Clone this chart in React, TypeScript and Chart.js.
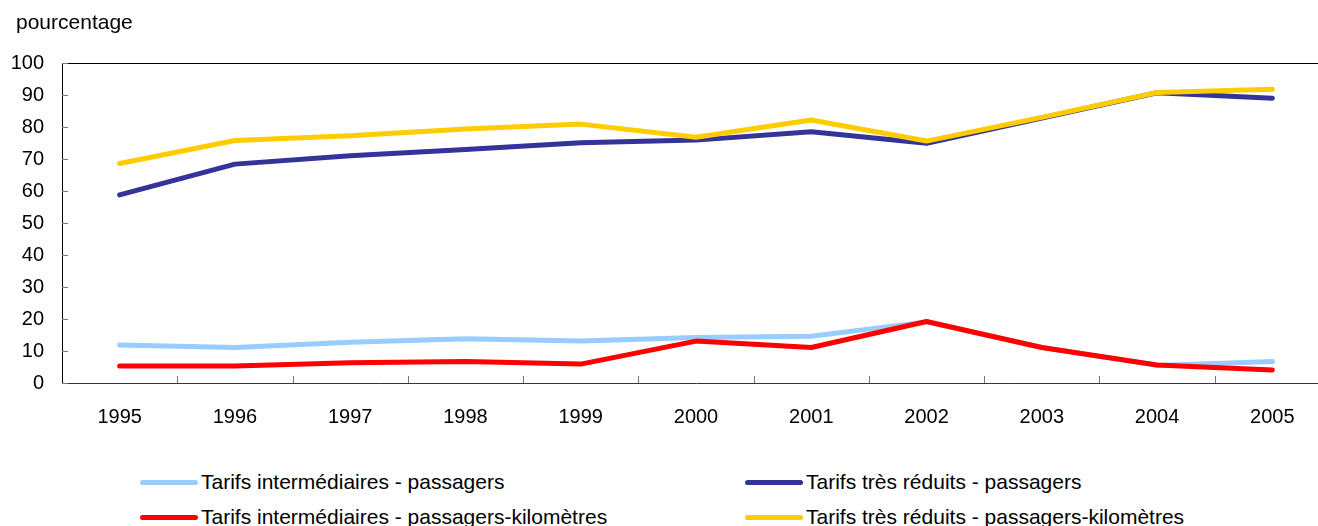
import React, { useEffect, useRef } from "react";
import { Chart, registerables } from "chart.js";

Chart.register(...registerables);

const years = ["1995", "1996", "1997", "1998", "1999", "2000", "2001", "2002", "2003", "2004", "2005"];
const interPassagers = [11.9, 11.1, 12.7, 13.8, 13.1, 14.2, 14.6, 19.1, 11.1, 5.5, 6.7];
const tresReduitsPassagers = [58.8, 68.4, 71.0, 73.0, 75.1, 75.9, 78.5, 74.9, 82.8, 90.7, 89.0];
const interPassKm = [5.3, 5.3, 6.3, 6.7, 5.9, 13.1, 11.1, 19.2, 11.1, 5.6, 4.1];
const tresReduitsPassKm = [68.6, 75.8, 77.3, 79.4, 80.9, 76.8, 82.2, 75.6, 83.0, 90.8, 91.8];
const seriesLabels = [
  "Tarifs intermédiaires - passagers",
  "Tarifs très réduits - passagers",
  "Tarifs intermédiaires - passagers-kilomètres",
  "Tarifs très réduits - passagers-kilomètres",
];
const seriesColors = ["#99ccff", "#333399", "#ff0000", "#ffcc00"];
const yMin = 0;
const yMax = 100;
const yStep = 10;
const yTitle = "pourcentage";

const FONT = "'Liberation Sans', Arial, Helvetica, sans-serif";

const framePlugin = {
  id: "frame",
  beforeDatasetsDraw(chart: any) {
    const { ctx, chartArea: a, scales } = chart;
    const x = scales.x;
    const y = scales.y;
    ctx.save();
    ctx.lineWidth = 1;
    ctx.strokeStyle = "#000";
    ctx.beginPath();
    ctx.moveTo(a.left, Math.round(a.top) + 0.5);
    ctx.lineTo(a.right, Math.round(a.top) + 0.5);
    ctx.stroke();
    ctx.strokeStyle = "#777";
    ctx.beginPath();
    const n = x.ticks.length;
    for (let i = 1; i < n; i++) {
      const px = Math.round(x.left + (i * x.width) / n) + 0.5;
      ctx.moveTo(px, a.bottom);
      ctx.lineTo(px, a.bottom - 7);
    }
    y.ticks.forEach((t: any) => {
      const py = Math.round(y.getPixelForValue(t.value)) + 0.5;
      ctx.moveTo(a.left, py);
      ctx.lineTo(a.left + 6, py);
    });
    ctx.stroke();
    ctx.restore();
  },
};

export default function App() {
  const ref = useRef<HTMLCanvasElement | null>(null);

  useEffect(() => {
    if (!ref.current) return;
    const values = [interPassagers, tresReduitsPassagers, interPassKm, tresReduitsPassKm];
    const drawOrder = [3, 2, 1, 0];
    const chart = new Chart(ref.current, {
      type: "line",
      data: {
        labels: years,
        datasets: values.map((v, i) => ({
          label: seriesLabels[i],
          data: v,
          borderColor: seriesColors[i],
          backgroundColor: seriesColors[i],
          borderWidth: 5,
          pointRadius: 0,
          tension: 0,
          borderCapStyle: "round" as const,
          borderJoinStyle: "round" as const,
          order: drawOrder[i],
        })),
      },
      options: {
        animation: false,
        responsive: false,
        maintainAspectRatio: false,
        layout: { padding: { top: 63, left: 0, right: 15, bottom: 0 } },
        plugins: { legend: { display: false }, tooltip: { enabled: false }, title: { display: false } },
        scales: {
          x: {
            type: "category",
            offset: true,
            grid: { display: false, drawTicks: false },
            border: { display: true, color: "#333", width: 1 },
            ticks: { color: "#000", font: { family: FONT, size: 20 }, padding: 22, maxRotation: 0, autoSkip: false },
            afterFit: (s: any) => { s.height = 47; },
          },
          y: {
            min: yMin,
            max: yMax,
            grid: { display: false, drawTicks: false },
            border: { display: true, color: "#000", width: 1 },
            ticks: { stepSize: yStep, color: "#000", font: { family: FONT, size: 20 }, padding: 18 },
            afterFit: (s: any) => { s.width = 62; },
          },
        },
      },
      plugins: [framePlugin],
    });
    return () => chart.destroy();
  }, []);

  const legendPos = [
    { left: 140, top: 482 },
    { left: 745, top: 482 },
    { left: 140, top: 517 },
    { left: 745, top: 517 },
  ];

  return (
    <div style={{ position: "absolute", left: 0, top: 0, width: 1318, height: 526, overflow: "hidden", background: "#fff", fontFamily: FONT }}>
      <canvas ref={ref} width={1345} height={430} style={{ position: "absolute", left: 0, top: 0, width: 1345, height: 430 }} />
      <div style={{ position: "absolute", left: 16, top: 10, fontSize: 21, color: "#000", lineHeight: "24px" }}>{yTitle}</div>
      {seriesLabels.map((lab, i) => (
        <div key={lab} style={{ position: "absolute", left: legendPos[i].left, top: legendPos[i].top - 12, height: 24, display: "flex", alignItems: "center", whiteSpace: "nowrap" }}>
          <span style={{ display: "inline-block", width: 58, height: 5, borderRadius: 3, background: seriesColors[i], marginRight: 3 }} />
          <span style={{ fontSize: 21, color: "#000", lineHeight: "24px" }}>{lab}</span>
        </div>
      ))}
    </div>
  );
}
